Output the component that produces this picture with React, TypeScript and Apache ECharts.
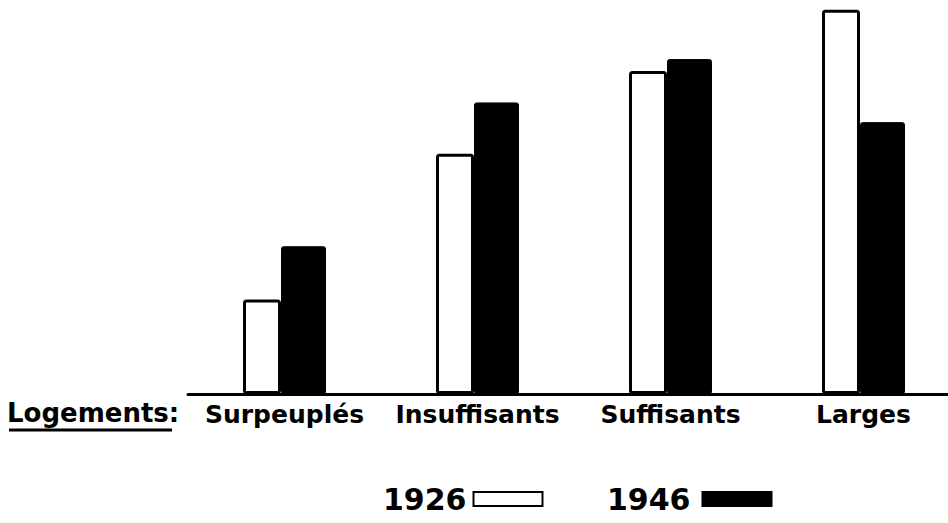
import React, { useEffect, useRef } from "react";
import * as echarts from "echarts";

const categories = ["Surpeuplés", "Insuffisants", "Suffisants", "Larges"];
const values1926 = [24, 61, 82, 97.5];
const values1946 = [37.5, 74, 85, 69];
const seriesNames = ["1926", "1946"];

const FONT = "DejaVu Sans";

export default function App() {
  const ref = useRef<HTMLDivElement>(null);
  useEffect(() => {
    if (!ref.current) return;
    const chart = echarts.init(ref.current, null, { renderer: "svg" });
    const legendBase = {
      top: 479,
      align: "right",
      itemWidth: 69,
      itemHeight: 14,
      icon: "rect",
    };
    chart.setOption({
      animation: false,
      backgroundColor: "#ffffff",
      grid: { left: 188, width: 772, top: 0, height: 394, containLabel: false },
      xAxis: {
        type: "category",
        data: categories,
        axisLine: { show: true, lineStyle: { color: "#000", width: 3 } },
        axisTick: { show: false },
        axisLabel: {
          interval: 0,
          color: "#000",
          fontFamily: FONT,
          fontWeight: "bold",
          fontSize: 25,
          margin: 8,
        },
      },
      yAxis: {
        type: "value",
        min: 0,
        max: 100,
        show: false,
        splitLine: { show: false },
      },
      legend: [
        {
          ...legendBase,
          left: 378,
          data: [seriesNames[0]],
          textStyle: { color: "#000", fontFamily: FONT, fontWeight: "bold", fontSize: 30, padding: [0, 2, 0, 0] },
        },
        {
          ...legendBase,
          left: 602,
          data: [seriesNames[1]],
          textStyle: { color: "#000", fontFamily: FONT, fontWeight: "bold", fontSize: 30, padding: [0, 7, 0, 0] },
        },
      ],
      series: [
        {
          name: seriesNames[0],
          type: "bar",
          data: values1926,
          barWidth: 38,
          barGap: "0%",
          itemStyle: { color: "#fff", borderColor: "#000", borderWidth: 3, borderRadius: 2 },
        },
        {
          name: seriesNames[1],
          type: "bar",
          data: values1946,
          barWidth: 45,
          barGap: "0%",
          itemStyle: { color: "#000", borderColor: "#000", borderWidth: 1, borderRadius: 2 },
        },
      ],
      graphic: [
        {
          type: "text",
          left: 7,
          top: 400,
          style: { text: "Logements:", fill: "#000", font: `bold 26px "${FONT}"` },
        },
        {
          type: "line",
          shape: { x1: 9, y1: 430, x2: 172, y2: 430 },
          style: { stroke: "#000", lineWidth: 3 },
        },
      ],
    });
    return () => chart.dispose();
  }, []);
  return (
    <div
      style={{ position: "fixed", left: 0, top: 0, width: 948, height: 523, overflow: "hidden", background: "#fff" }}
    >
      <div ref={ref} style={{ width: 961, height: 523 }} />
    </div>
  );
}
